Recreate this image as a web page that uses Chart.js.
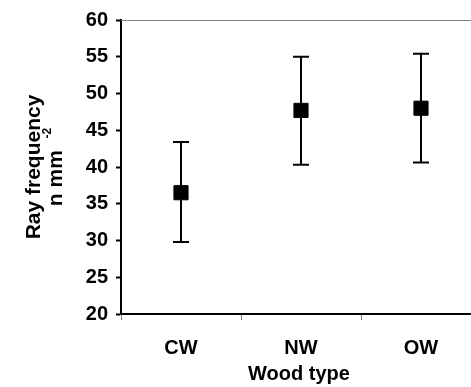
<!DOCTYPE html>
<html>
<head>
<meta charset="utf-8">
<script src="https://cdn.jsdelivr.net/npm/chart.js@4/dist/chart.umd.min.js"></script>
<style>
  html, body { margin: 0; padding: 0; background: #fff; overflow: hidden; }
</style>
</head>
<body>
<canvas id="rayChart" width="500" height="387"></canvas>
<script>
var categories = ['CW', 'NW', 'OW'];
var means = [36.5, 47.7, 48.0];
var lowerErr = [29.8, 40.3, 40.6];
var upperErr = [43.4, 55.0, 55.4];
var yMin = 20, yMax = 60, yStep = 5;

var fontName = '"Liberation Sans", Arial, sans-serif';

// error bars + titles + top border line
var extras = {
    id: 'extras',
    afterDatasetsDraw: function(chart) {
        var ctx = chart.ctx;
        var xs = chart.scales.x, ys = chart.scales.y;
        ctx.save();
        ctx.strokeStyle = '#000';
        ctx.lineWidth = 2;
        for (var i = 0; i < categories.length; i++) {
            var x = xs.getPixelForValue(i);
            var yl = ys.getPixelForValue(lowerErr[i]);
            var yh = ys.getPixelForValue(upperErr[i]);
            ctx.beginPath();
            ctx.moveTo(x, yl); ctx.lineTo(x, yh);
            ctx.moveTo(x - 8, yl); ctx.lineTo(x + 8, yl);
            ctx.moveTo(x - 8, yh); ctx.lineTo(x + 8, yh);
            ctx.stroke();
        }
        ctx.restore();
    },
    afterDraw: function(chart) {
        var ctx = chart.ctx;
        var area = chart.chartArea;
        ctx.save();
        // top line
        ctx.strokeStyle = '#808080';
        ctx.lineWidth = 1;
        ctx.beginPath();
        ctx.moveTo(area.left, area.top + 0.5);
        ctx.lineTo(area.right, area.top + 0.5);
        ctx.stroke();

        ctx.fillStyle = '#000';
        // x title
        ctx.font = 'bold 20px ' + fontName;
        ctx.textAlign = 'center';
        ctx.textBaseline = 'middle';
        ctx.fillText('Wood type', 299, 374);

        // y title (rotated)
        ctx.textBaseline = 'alphabetic';
        ctx.font = 'bold 21px ' + fontName;
        ctx.translate(40, 167);
        ctx.rotate(-Math.PI / 2);
        ctx.fillText('Ray frequency', 0, 0);
        ctx.restore();

        ctx.save();
        ctx.fillStyle = '#000';
        ctx.translate(62, 167);
        ctx.rotate(-Math.PI / 2);
        ctx.textBaseline = 'alphabetic';
        ctx.font = 'bold 21px ' + fontName;
        var w1 = ctx.measureText('n mm  ').width;
        ctx.font = 'bold 12px ' + fontName;
        var w2 = ctx.measureText('-2').width;
        var start = -(w1 + w2) / 2;
        ctx.font = 'bold 21px ' + fontName;
        ctx.textAlign = 'left';
        ctx.fillText('n mm', start, 0);
        ctx.font = 'bold 12px ' + fontName;
        ctx.fillText('-2', start + w1, -11);
        ctx.restore();
    }
};

var ctx = document.getElementById('rayChart').getContext('2d');
var myChart = new Chart(ctx, {
    type: 'line',
    data: {
        labels: categories,
        datasets: [{
            label: 'Ray frequency',
            data: means,
            showLine: false,
            pointStyle: 'rect',
            pointRadius: 10,
            pointHoverRadius: 10,
            pointBackgroundColor: '#000',
            pointBorderColor: '#000',
            pointBorderWidth: 1
        }]
    },
    options: {
        responsive: false,
        animation: false,
        events: [],
        layout: { padding: { top: 20, right: 19, left: 0, bottom: 0 } },
        plugins: {
            legend: { display: false },
            tooltip: { enabled: false }
        },
        scales: {
            x: {
                type: 'category',
                offset: true,
                grid: {
                    offset: true,
                    drawOnChartArea: false,
                    drawTicks: true,
                    tickLength: 6,
                    tickColor: '#808080',
                    tickWidth: 1
                },
                border: { color: '#000', width: 2 },
                ticks: {
                    color: '#000',
                    padding: 16,
                    font: { family: fontName, size: 20, weight: 'bold' }
                },
                afterFit: function(scale) { scale.height = 73; }
            },
            y: {
                min: yMin,
                max: yMax,
                grid: {
                    drawOnChartArea: false,
                    tickLength: 5,
                    tickColor: '#000',
                    tickWidth: 2
                },
                border: { color: '#000', width: 2 },
                ticks: {
                    stepSize: yStep,
                    color: '#000',
                    padding: 8,
                    font: { family: fontName, size: 20, weight: 'bold' }
                },
                afterFit: function(scale) { scale.width = 121; }
            }
        }
    },
    plugins: [extras]
});
</script>
</body>
</html>
